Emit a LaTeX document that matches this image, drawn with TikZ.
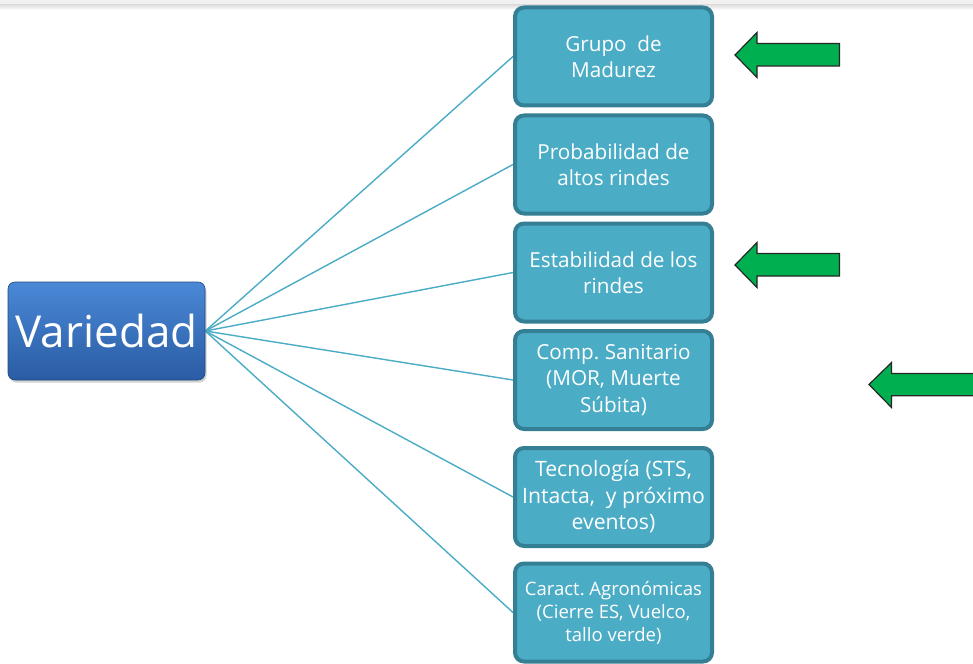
\documentclass[tikz,border=0pt]{standalone}
\usepackage{fontspec}
\setmainfont{Open Sans}
\frenchspacing
\usetikzlibrary{shadows,backgrounds}
\definecolor{boxfill}{HTML}{4BACC6}
\definecolor{boxline}{HTML}{357F94}
\definecolor{conncol}{HTML}{4BACC6}
\definecolor{arrgreen}{HTML}{00B050}
\definecolor{vtop}{HTML}{4A88D6}
\definecolor{vbot}{HTML}{2A5CA4}
\tikzset{
  catbox/.style={draw=boxline, fill=boxfill, line width=4pt, rounded corners=9pt,
    minimum width=197pt, minimum height=98pt, align=center, text=white,
    inner sep=2pt, font=\fontsize{20.7}{26.5}\selectfont},
  smalltext/.style={font=\fontsize{18.5}{23}\selectfont},
  mainbox/.style={rounded corners=7pt, top color=vtop, bottom color=vbot,
    draw=vbot!80!black, line width=0.6pt, minimum width=197pt, minimum height=98pt,
    text=white, font=\fontsize{44}{52}\selectfont,
    drop shadow={shadow xshift=1.5pt, shadow yshift=-2.5pt, opacity=0.35}},
  conn/.style={draw=conncol, line width=1.4pt},
  greenarrow/.style={fill=arrgreen, draw=black!85, line width=1.2pt, line join=miter}
}
\begin{document}
\begin{tikzpicture}[x=1pt,y=-1pt]
\useasboundingbox (0,0) rectangle (973,663);
\begin{scope}[on background layer]
\fill[white] (0,0) rectangle (973,663);
\fill[black!6] (0,0) rectangle (973,5);
\shade[top color=black!12, bottom color=white] (0,5) rectangle (973,10);
\end{scope}

\node[mainbox] (v) at (106.5,331) {Variedad};

\node[catbox] (b1) at (613.5,56.5) {Grupo\ \ de\\Madurez};
\node[catbox] (b2) at (613.5,164.5) {Probabilidad de\\altos rindes};
\node[catbox] (b3) at (613.5,272.5) {Estabilidad de los\\rindes};
\node[catbox] (b4) at (613.5,380) {Comp. Sanitario\\(MOR, Muerte\\Súbita)};
\node[catbox, font=\fontsize{21.2}{26.5}\selectfont] (b5) at (613.5,497) {Tecnología (STS,\\Intacta,\ \ y próximo\\eventos)};
\node[catbox, smalltext] (b6) at (613.5,612.5) {Caract. Agronómicas\\(Cierre ES, Vuelco,\\tallo verde)};

\begin{scope}[on background layer]
\foreach \b in {b1,b2,b3,b4,b5,b6}
  \draw[conn] (v.east) -- (\b.west);
\end{scope}

% green arrows
\draw[greenarrow] (735,55) -- (757,32.5) -- (757,43.5) -- (839.5,43.5) -- (839.5,66) -- (757,66) -- (757,77.5) -- cycle;
\draw[greenarrow] (735,265) -- (757,242.5) -- (757,253.5) -- (839.5,253.5) -- (839.5,276) -- (757,276) -- (757,287.5) -- cycle;
\draw[greenarrow] (869,384.5) -- (891.5,362.5) -- (891.5,373.5) -- (980,373.5) -- (980,395.7) -- (891.5,395.7) -- (891.5,407.5) -- cycle;
\end{tikzpicture}
\end{document}
